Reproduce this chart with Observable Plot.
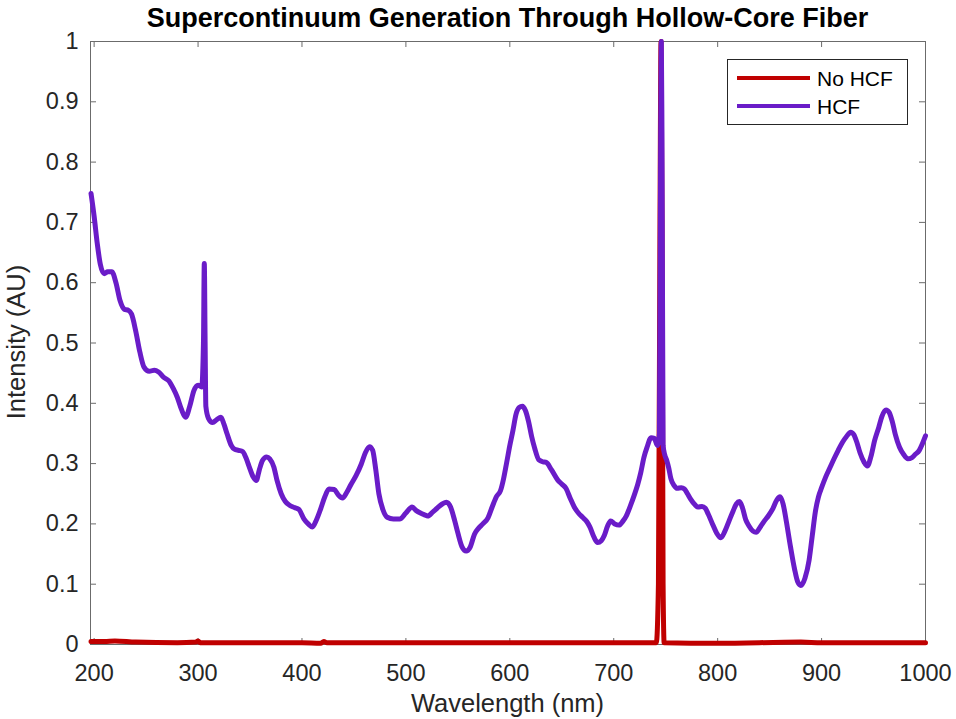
<!DOCTYPE html>
<html><head><meta charset="utf-8">
<script src="https://cdn.jsdelivr.net/npm/d3@7"></script>
<script src="https://cdn.jsdelivr.net/npm/@observablehq/plot@0.6"></script>
<style>
body{margin:0;background:#fff;}
#wrap{position:relative;width:956px;height:719px;overflow:hidden;background:#fff;font-family:"Liberation Sans",Arial,Helvetica,sans-serif;color:#262626;}
.abs{position:absolute;white-space:nowrap;line-height:1;}
#chart{position:absolute;left:0;top:0;}
</style></head><body><div id="wrap"><div id="chart"></div></div>
<script>
const titleText = "Supercontinuum Generation Through Hollow-Core Fiber";
const xLabel = "Wavelength (nm)";
const yLabel = "Intensity (AU)";
const seriesNames = ["No HCF", "HCF"];
const seriesColors = ["#c00000", "#6a1cc8"];
const xTicks = [200, 300, 400, 500, 600, 700, 800, 900, 1000];
const yTicks = [0, 0.1, 0.2, 0.3, 0.4, 0.5, 0.6, 0.7, 0.8, 0.9, 1];

const hcfWavelength = [197,200,203,206,209.6,213,217,221,225,229,233,236,240,244,248,253,258,262,267,272,276,280,284,288,292,296,300,303.5,305.2,306,306.8,307.5,310,314,318,322,325,328,332,335,339,343,346,349,353,356,359,362,366,369,373,376,380,384,388,393,397,402,406,410,414,418,422,426,431,435,439,443,447,452,457,461,465,468,471,474,478,482,488,494,500,506,510,514,518,521,526,530,535,539,543,547,550,554,558,562,566,570,574,579,583,587,591,594,597,600,603,606,609,612,615,618,621,624,628,632,635,640,646,650,654,658,662,666,670,674,677,681,684.5,688,691,694,697,701,705,709,712,716,720,723,726,729,732,736,739,742,744,745.2,745.8,746.4,747.5,749,751,753,755,758,761,765,768,771,774,778,781,785,788,791,795,799,803,807,811,815,818,821,824,827,830,834,837,841,845,849,853,857,860,863,866,870,874,877,880,884,888,891,894,897,900,904,908,912,916,920,924,928,931,934,937,941,944,948,951,955,958,962,965,968,971,975,979,983,987,990,994,997,1000];
const hcfIntensity = [0.748,0.71,0.665,0.63,0.615,0.618,0.618,0.6,0.57,0.556,0.554,0.548,0.52,0.485,0.46,0.453,0.455,0.452,0.443,0.437,0.425,0.41,0.39,0.377,0.395,0.421,0.43,0.427,0.5,0.632,0.5,0.395,0.375,0.368,0.373,0.377,0.365,0.349,0.33,0.324,0.322,0.32,0.31,0.296,0.278,0.272,0.29,0.305,0.311,0.308,0.294,0.272,0.25,0.237,0.231,0.227,0.224,0.208,0.2,0.195,0.207,0.225,0.245,0.258,0.257,0.248,0.243,0.252,0.265,0.28,0.299,0.318,0.328,0.322,0.29,0.25,0.223,0.211,0.208,0.208,0.218,0.228,0.222,0.218,0.215,0.213,0.22,0.226,0.233,0.236,0.228,0.205,0.185,0.162,0.155,0.162,0.183,0.193,0.2,0.21,0.228,0.245,0.255,0.275,0.302,0.33,0.355,0.382,0.393,0.395,0.388,0.37,0.345,0.325,0.306,0.303,0.302,0.29,0.273,0.266,0.259,0.243,0.228,0.218,0.211,0.204,0.195,0.178,0.169,0.172,0.181,0.196,0.205,0.2,0.198,0.205,0.213,0.23,0.249,0.265,0.285,0.31,0.327,0.343,0.342,0.33,0.35,0.85,1.0,0.85,0.33,0.315,0.305,0.292,0.275,0.264,0.259,0.26,0.258,0.25,0.241,0.232,0.228,0.229,0.226,0.216,0.2,0.185,0.177,0.188,0.205,0.222,0.233,0.237,0.226,0.207,0.197,0.188,0.186,0.195,0.205,0.214,0.225,0.24,0.245,0.233,0.205,0.163,0.125,0.104,0.098,0.11,0.14,0.18,0.22,0.245,0.26,0.278,0.293,0.308,0.322,0.335,0.345,0.352,0.348,0.335,0.318,0.302,0.296,0.315,0.338,0.36,0.378,0.389,0.385,0.37,0.348,0.327,0.315,0.308,0.31,0.315,0.322,0.333,0.346];

const noHcfWavelength = [197,210,220,240,280,298,300,302,350,400,418,421,424,500,600,700,741,743,744.5,745.5,746.5,747.5,748.5,800,880,900,1000];
const noHcfIntensity = [0.005,0.005,0.006,0.004,0.003,0.004,0.006,0.003,0.003,0.003,0.002,0.005,0.003,0.003,0.003,0.003,0.003,0.1,0.7,1.0,0.7,0.1,0.003,0.002,0.004,0.003,0.003];

const hcf = hcfWavelength.map((w, i) => ({w, v: hcfIntensity[i]}));
const noHcf = noHcfWavelength.map((w, i) => ({w, v: noHcfIntensity[i]}));

const W = 956, H = 719, mL = 90, mR = 31, mT = 41, mB = 75;
const innerW = W - mL - mR, innerH = H - mT - mB, tk = 6;
const axisColor = "#6b6b6b";
const fontFamily = '"Liberation Sans", Arial, Helvetica, sans-serif';

const chart = Plot.plot({
  width: W, height: H,
  marginLeft: mL, marginRight: mR, marginTop: mT, marginBottom: mB,
  style: {fontFamily, fontSize: "23.5px", color: "#262626", background: "white", overflow: "visible"},
  x: {domain: [196.5, 1000]},
  y: {domain: [0, 1]},
  marks: [
    Plot.frame({stroke: axisColor, strokeWidth: 1}),
    Plot.tickX(xTicks, {x: d => d, insetTop: innerH - tk, stroke: axisColor}),
    Plot.tickX(xTicks, {x: d => d, insetBottom: innerH - tk, stroke: axisColor}),
    Plot.tickY(yTicks, {y: d => d, insetRight: innerW - tk, stroke: axisColor}),
    Plot.tickY(yTicks, {y: d => d, insetLeft: innerW - tk, stroke: axisColor}),
    Plot.axisX({ticks: xTicks, tickSize: 0, tickPadding: 20, label: null, tickFormat: d => String(d)}),
    Plot.axisY({ticks: yTicks, tickSize: 0, tickPadding: 12, label: null, tickFormat: d => String(d)}),
    Plot.line(noHcf, {x: "w", y: "v", stroke: seriesColors[0], strokeWidth: 5, curve: "monotone-x"}),
    Plot.line(hcf, {x: "w", y: "v", stroke: seriesColors[1], strokeWidth: 5, curve: "monotone-x"})
  ]
});
document.getElementById("chart").appendChild(chart);

const wrap = document.getElementById("wrap");
function addDiv(text, css) {
  const d = document.createElement("div");
  d.className = "abs";
  d.textContent = text;
  Object.assign(d.style, css);
  wrap.appendChild(d);
  return d;
}
addDiv(titleText, {left: "507.5px", top: "5px", fontSize: "27px", fontWeight: "bold", color: "#000", transform: "translateX(-50%)"});
addDiv(xLabel, {left: "507.5px", top: "691px", fontSize: "25.5px", transform: "translateX(-50%)"});
addDiv(yLabel, {left: "17px", top: "342px", fontSize: "25.5px", transform: "translate(-50%,-50%) rotate(-90deg)"});

// legend
const box = document.createElement("div");
Object.assign(box.style, {position: "absolute", left: "727px", top: "59px", width: "179px", height: "64px", border: "1px solid #262626", background: "#fff"});
wrap.appendChild(box);
const rowY = [78, 106];
seriesNames.forEach((name, i) => {
  const ln = document.createElement("div");
  Object.assign(ln.style, {position: "absolute", left: "737px", top: (rowY[i] - 2.25) + "px", width: "73px", height: "4.5px", background: seriesColors[i]});
  wrap.appendChild(ln);
  addDiv(name, {left: "817px", top: (rowY[i] + 7.5 - 0.8465 * 21) + "px", fontSize: "21px", color: "#000"});
});
</script>
</body></html>
